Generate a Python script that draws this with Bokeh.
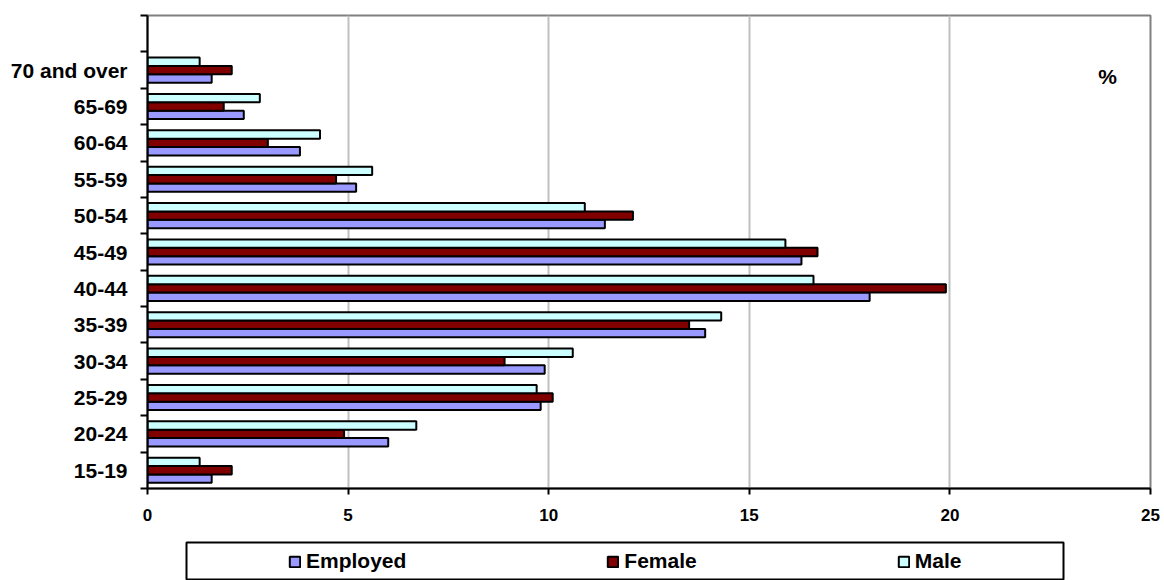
import numpy as np
from bokeh.plotting import figure
from bokeh.models import Range1d, FixedTicker, Label, Legend, LegendItem, ColumnDataSource
from bokeh.embed import file_html
from bokeh.resources import INLINE

categories = ["15-19", "20-24", "25-29", "30-34", "35-39", "40-44",
              "45-49", "50-54", "55-59", "60-64", "65-69", "70 and over"]
employed = [1.6, 6.0, 9.8, 9.9, 13.9, 18.0, 16.3, 11.4, 5.2, 3.8, 2.4, 1.6]
female = [2.1, 4.9, 10.1, 8.9, 13.5, 19.9, 16.7, 12.1, 4.7, 3.0, 1.9, 2.1]
male = [1.3, 6.7, 9.7, 10.6, 14.3, 16.6, 15.9, 10.9, 5.6, 4.3, 2.8, 1.3]
x_ticks = [0, 5, 10, 15, 20, 25]

FONT = "Liberation Sans"
C_EMP, C_FEM, C_MALE = "#9999FF", "#800000", "#CCFFFF"

n_slots = len(categories) + 1
centers = np.arange(len(categories)) + 0.5
bh = 0.23

src = ColumnDataSource(dict(
    y_emp=centers - bh, y_fem=centers, y_male=centers + bh,
    employed=employed, female=female, male=male))

p = figure(width=1164, height=540, output_backend="svg", toolbar_location=None,
           x_range=Range1d(0, 25), y_range=Range1d(0, n_slots),
           min_border_left=147, min_border_right=14, min_border_top=15, min_border_bottom=52)

bar_style = [("y_emp", "employed", C_EMP), ("y_fem", "female", C_FEM), ("y_male", "male", C_MALE)]
for ycol, xcol, col in bar_style:
    p.hbar(y=ycol, right=xcol, left=0, height=bh, source=src,
           fill_color=col, line_color="black", line_width=2)

p.outline_line_color = "#808080"
p.outline_line_width = 2
p.ygrid.visible = False
p.xgrid.ticker = FixedTicker(ticks=x_ticks)
p.xgrid.grid_line_color = "#c0c0c0"
p.xgrid.grid_line_width = 2

xa = p.xaxis[0]
xa.ticker = FixedTicker(ticks=x_ticks)
xa.axis_line_color = "black"
xa.axis_line_width = 2
xa.major_tick_out = 6
xa.major_tick_in = 0
xa.major_tick_line_width = 2
xa.minor_tick_line_color = None
xa.major_label_text_font = FONT
xa.major_label_text_font_style = "bold"
xa.major_label_text_font_size = "17px"
xa.major_label_text_color = "black"
xa.major_label_standoff = 14

ya = p.yaxis[0]
ya.ticker = FixedTicker(ticks=list(centers), minor_ticks=list(range(n_slots + 1)))
ya.major_label_overrides = {float(c): cat for c, cat in zip(centers, categories)}
ya.axis_line_color = "black"
ya.axis_line_width = 2
ya.major_tick_line_color = None
ya.major_tick_out = 0
ya.major_tick_in = 0
ya.minor_tick_line_color = "black"
ya.minor_tick_line_width = 2
ya.minor_tick_out = 7
ya.minor_tick_in = 0
ya.major_label_text_font = FONT
ya.major_label_text_font_style = "bold"
ya.major_label_text_font_size = "21px"
ya.major_label_text_color = "black"
ya.major_label_standoff = 13

p.add_layout(Label(x=23.93, y=11.32, text="%", text_font=FONT, text_font_style="bold",
                   text_font_size="21px", text_align="center", text_baseline="middle",
                   text_color="black"))

# legend strip below: its frame outline is the legend box (bars here are out of view)
q = figure(width=1164, height=40, output_backend="svg", toolbar_location=None,
           x_range=Range1d(0, 25), y_range=Range1d(100, 101),
           x_axis_location=None, y_axis_location=None,
           min_border_left=186, min_border_right=101, min_border_top=2, min_border_bottom=0)
q.grid.visible = False
q.outline_line_color = "black"
q.outline_line_width = 2
q.outline_line_alpha = 1
rs = []
for ycol, xcol, col in bar_style:
    rs.append(q.hbar(y=ycol, right=xcol, left=0, height=bh, source=src,
                     fill_color=col, line_color="black", line_width=2))

leg = Legend(items=[LegendItem(label="Employed", renderers=[rs[0]]),
                    LegendItem(label="Female", renderers=[rs[1]]),
                    LegendItem(label="Male", renderers=[rs[2]])],
             location=(102, 7), orientation="horizontal", spacing=200,
             padding=0, margin=0,
             border_line_color=None, background_fill_alpha=0,
             glyph_width=13, glyph_height=13, label_standoff=5,
             label_text_font=FONT, label_text_font_style="bold", label_text_font_size="21px",
             label_text_color="black")
q.add_layout(leg, "center")

open("out.html", "w").write(file_html([p, q], INLINE))
